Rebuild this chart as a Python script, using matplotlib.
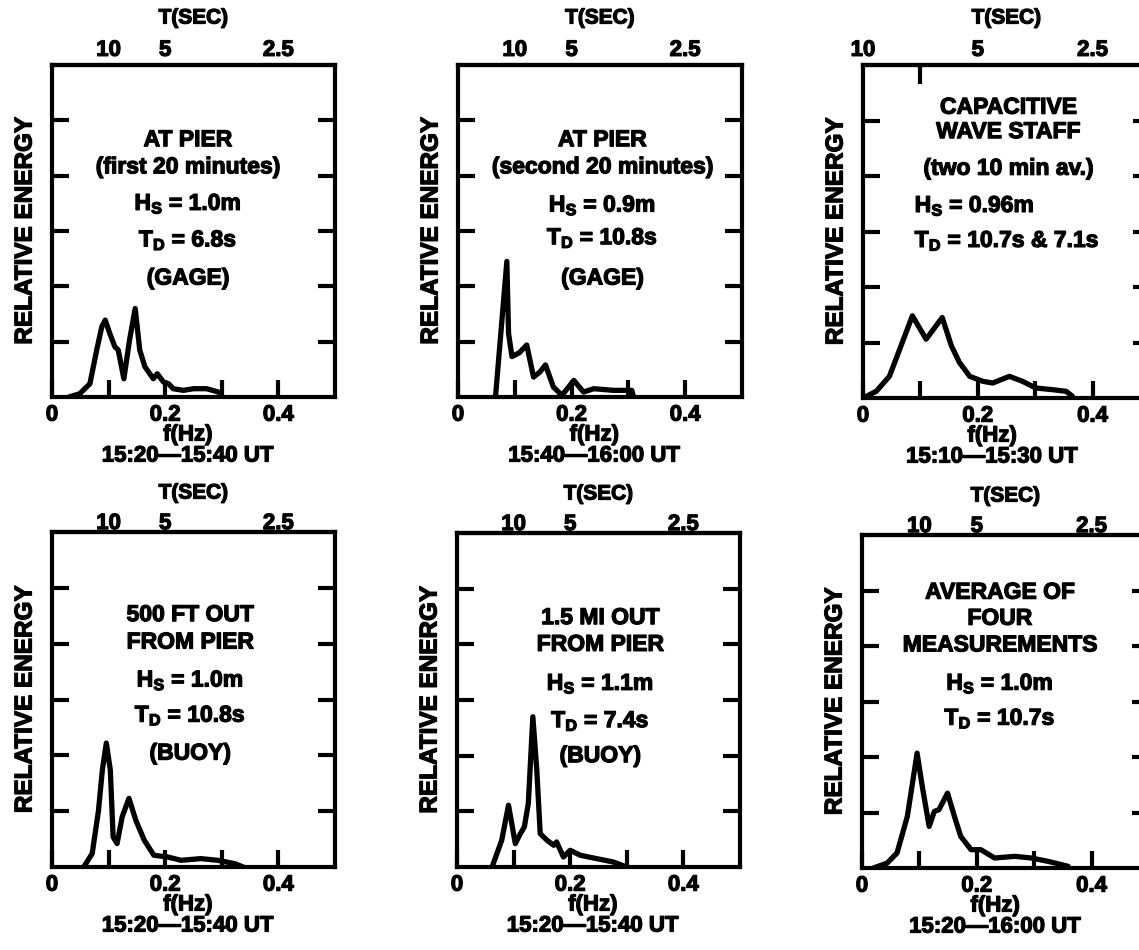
import numpy as np
import matplotlib.pyplot as plt
import matplotlib.patheffects as pe

plt.rcParams['font.family'] = ['Liberation Sans', 'DejaVu Sans']
plt.rcParams['font.weight'] = 'bold'
plt.rcParams['mathtext.fontset'] = 'custom'
plt.rcParams['mathtext.rm'] = 'Liberation Sans:bold'
plt.rcParams['mathtext.bf'] = 'Liberation Sans:bold'
plt.rcParams['mathtext.default'] = 'bf'

# wave spectra: frequency (Hz) vs relative energy
freq_1 = [0.03, 0.049, 0.067, 0.079, 0.088, 0.094, 0.102, 0.111, 0.117, 0.127, 0.137, 0.147,
          0.155, 0.164, 0.179, 0.186, 0.197, 0.206, 0.214, 0.232, 0.25, 0.273, 0.294, 0.30]
energy_1 = [0.0, 0.06, 0.24, 0.85, 1.27, 1.39, 1.15, 0.91, 0.85, 0.33, 1.03, 1.6,
            0.85, 0.55, 0.33, 0.42, 0.27, 0.24, 0.15, 0.12, 0.15, 0.15, 0.09, 0.02]

freq_2 = [0.066, 0.086, 0.089, 0.095, 0.108, 0.121, 0.133, 0.144, 0.154, 0.168, 0.183,
          0.204, 0.221, 0.239, 0.274, 0.306, 0.309]
energy_2 = [0.0, 2.45, 1.15, 0.73, 0.8, 0.94, 0.36, 0.45, 0.58, 0.18, 0.03,
            0.3, 0.09, 0.15, 0.12, 0.12, 0.0]

freq_3 = [0.0, 0.023, 0.046, 0.064, 0.086, 0.11, 0.138, 0.154, 0.168, 0.186, 0.209,
          0.226, 0.255, 0.278, 0.301, 0.33, 0.354, 0.365]
energy_3 = [0.0, 0.12, 0.39, 0.88, 1.48, 1.06, 1.45, 0.94, 0.64, 0.39, 0.3,
            0.27, 0.39, 0.3, 0.18, 0.15, 0.12, 0.03]

freq_4 = [0.056, 0.071, 0.082, 0.089, 0.096, 0.103, 0.108, 0.115, 0.124, 0.136, 0.148,
          0.163, 0.18, 0.204, 0.228, 0.263, 0.293, 0.323, 0.338]
energy_4 = [0.0, 0.24, 1.0, 1.74, 2.22, 1.74, 0.54, 0.42, 0.9, 1.23, 0.84,
            0.48, 0.21, 0.18, 0.12, 0.15, 0.12, 0.06, 0.0]

freq_5 = [0.062, 0.079, 0.091, 0.103, 0.112, 0.119, 0.126, 0.134, 0.141, 0.147, 0.159,
          0.171, 0.176, 0.188, 0.2, 0.218, 0.247, 0.276, 0.30]
energy_5 = [0.0, 0.48, 1.11, 0.42, 0.6, 0.72, 1.14, 2.7, 1.74, 0.6, 0.48,
            0.39, 0.45, 0.18, 0.3, 0.21, 0.15, 0.09, 0.0]

freq_6 = [0.02, 0.044, 0.061, 0.079, 0.096, 0.105, 0.117, 0.126, 0.134, 0.149, 0.161,
          0.172, 0.19, 0.207, 0.231, 0.266, 0.295, 0.324, 0.359]
energy_6 = [0.0, 0.09, 0.27, 0.93, 2.07, 1.47, 0.75, 1.02, 1.05, 1.35, 0.93,
            0.57, 0.33, 0.33, 0.18, 0.21, 0.18, 0.12, 0.03]

period_ticks = [10, 5, 2.5]
period_labels = ['10', '5', '2.5']
freq_ticks = [0, 0.2, 0.4]
freq_labels = ['0', '0.2', '0.4']
freq_minor = [0.1, 0.3]
energy_ticks = [1, 2, 3, 4, 5]

notes_1 = ['AT PIER', '(first 20 minutes)', 'H$_S$ = 1.0m', 'T$_D$ = 6.8s', '(GAGE)']
notes_2 = ['AT PIER', '(second 20 minutes)', 'H$_S$ = 0.9m', 'T$_D$ = 10.8s', '(GAGE)']
notes_3 = ['CAPACITIVE', 'WAVE STAFF', '(two 10 min av.)', 'H$_S$ = 0.96m', 'T$_D$ = 10.7s & 7.1s']
notes_4 = ['500 FT OUT', 'FROM PIER', 'H$_S$ = 1.0m', 'T$_D$ = 10.8s', '(BUOY)']
notes_5 = ['1.5 MI OUT', 'FROM PIER', 'H$_S$ = 1.1m', 'T$_D$ = 7.4s', '(BUOY)']
notes_6 = ['AVERAGE OF', 'FOUR', 'MEASUREMENTS', 'H$_S$ = 1.0m', 'T$_D$ = 10.7s']

times = ['15:20\u201415:40 UT', '15:40\u201416:00 UT', '15:10\u201415:30 UT',
         '15:20\u201415:40 UT', '15:20\u201415:40 UT', '15:20\u201416:00 UT']

W, H = 1139, 950
PT = 0.72  # points per pixel at dpi 100
heavy = [pe.withStroke(linewidth=0.9, foreground='black')]

# layout: pixel box (left, top, right, bottom), note placement, row spacing
panels = [
    dict(f=freq_1, e=energy_1, notes=notes_1, box=(52, 65, 335, 397),
         note_x=[0.24] * 5, note_y=[4.65, 4.16, 3.5, 2.84, 2.15], ha='center',
         lab_x=0.24, top_pad=3, tsec=47),
    dict(f=freq_2, e=energy_2, notes=notes_2, box=(458, 65, 742, 397),
         note_x=[0.254] * 5, note_y=[4.65, 4.16, 3.47, 2.88, 2.15], ha='center',
         lab_x=0.24, top_pad=3, tsec=47),
    dict(f=freq_3, e=energy_3, notes=notes_3, box=(863, 65, 1150, 398),
         note_x=[0.253, 0.253, 0.253, 0.09, 0.09], note_y=[5.24, 4.8, 4.14, 3.47, 2.84],
         ha=['center', 'center', 'center', 'left', 'left'],
         lab_x=0.225, top_pad=3, tsec=47, top_pos=[0.0, 0.2, 0.4]),
    dict(f=freq_4, e=energy_4, notes=notes_4, box=(52, 532, 335, 867),
         note_x=[0.244] * 5, note_y=[4.52, 4.03, 3.35, 2.72, 2.04], ha='center',
         lab_x=0.24, top_pad=-1.5, tsec=39),
    dict(f=freq_5, e=energy_5, notes=notes_5, box=(457, 533, 740, 867),
         note_x=[0.253] * 5, note_y=[4.48, 4.0, 3.3, 2.63, 2.0], ha='center',
         lab_x=0.24, top_pad=-1.5, tsec=39),
    dict(f=freq_6, e=energy_6, notes=notes_6, box=(862, 535, 1149, 868),
         note_x=[0.24] * 5, note_y=[4.97, 4.5, 4.02, 3.33, 2.7], ha='center',
         lab_x=0.232, top_pad=-1.5, tsec=39),
]

fig = plt.figure(figsize=(W / 100, H / 100), dpi=100)

for p, time_label in zip(panels, times):
    left, top, right, bottom = p['box']
    ax = fig.add_axes([left / W, 1 - bottom / H, (right - left) / W, (bottom - top) / H])

    ax.plot(p['f'], p['e'], color='black', lw=3.8,
            solid_joinstyle='round', solid_capstyle='round')
    ax.set_xlim(0, 0.5)
    ax.set_ylim(0, 6)
    for s in ax.spines.values():
        s.set_linewidth(3)

    ax.set_xticks(freq_ticks, freq_labels)
    ax.set_xticks(freq_minor, minor=True)
    ax.set_yticks(energy_ticks, [])
    ax.tick_params(axis='both', which='both', direction='in', length=12, width=3,
                   labelsize=16, pad=5.5)
    ax.tick_params(axis='y', left=True, right=True, labelleft=False)
    for lab in ax.get_xticklabels():
        lab.set_path_effects(heavy)

    # period axis on top
    sec = ax.secondary_xaxis('top')
    tick_pos = 1 / np.array(period_ticks)
    sec.set_xticks(p.get('top_pos', tick_pos), period_labels)
    sec.set_xticks(tick_pos, minor=True)
    sec.tick_params(which='major', direction='in', length=0, pad=p['top_pad'], labelsize=16)
    sec.tick_params(which='minor', direction='in', length=14, width=3)
    sec.spines['top'].set_linewidth(3)
    for lab in sec.get_xticklabels():
        lab.set_path_effects(heavy)

    has = p['ha'] if isinstance(p['ha'], list) else [p['ha']] * len(p['notes'])
    for txt, x, y, ha in zip(p['notes'], p['note_x'], p['note_y'], has):
        ax.text(x, y, txt, ha=ha, va='center', fontsize=16.5, fontweight='bold',
                path_effects=heavy)

    ax.annotate('T(SEC)', xy=(0.25, 1), xycoords=('data', 'axes fraction'),
                xytext=(0, p['tsec'] * PT), textcoords='offset points',
                ha='center', va='center', fontsize=15, path_effects=heavy)
    ax.annotate('f(Hz)', xy=(p['lab_x'], 0), xycoords=('data', 'axes fraction'),
                xytext=(0, -38 * PT), textcoords='offset points',
                ha='center', va='center', fontsize=16, path_effects=heavy)
    ax.annotate(time_label, xy=(p['lab_x'], 0), xycoords=('data', 'axes fraction'),
                xytext=(0, -59 * PT), textcoords='offset points',
                ha='center', va='center', fontsize=16, path_effects=heavy)
    ax.annotate('RELATIVE ENERGY', xy=(0, 0.5), xycoords='axes fraction',
                xytext=(-27 * PT, 0), textcoords='offset points',
                ha='center', va='center', rotation=90, fontsize=17.5, path_effects=heavy)

fig.savefig('out.png', dpi=100)
